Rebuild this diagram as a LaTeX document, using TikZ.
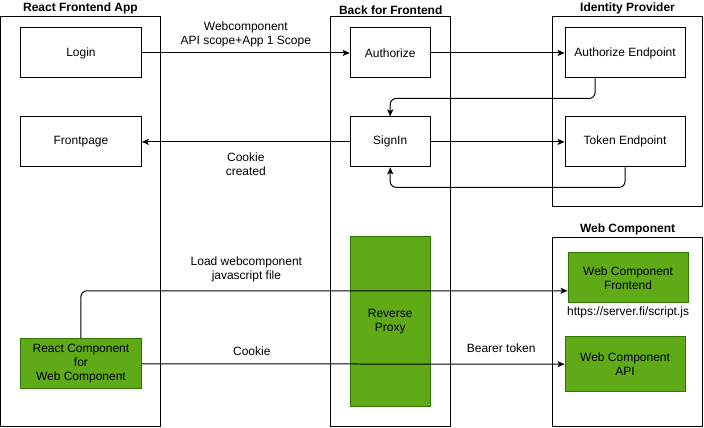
\documentclass[tikz,border=0pt]{standalone}
\usepackage{fontspec}
\setmainfont{Liberation Sans}
\usepackage{tikz}
\usetikzlibrary{arrows.meta,positioning}
\usepackage{xcolor}
\definecolor{cGreen}{RGB}{96,169,23}
\definecolor{cGreenD}{RGB}{45,118,0}

\begin{document}
\begin{tikzpicture}[
  x=1pt, y=-1pt,
  font=\fontsize{12}{14}\selectfont,
  grp/.style={rectangle, draw=black, line width=1pt, inner sep=0pt},
  ttl/.style={font=\fontsize{12}{14}\selectfont\bfseries, inner sep=2pt},
  bx/.style={rectangle, draw=black, line width=1pt, align=center,
    inner sep=2pt, minimum width=120pt, minimum height=50pt},
  gbx/.style={bx, fill=cGreen, draw=cGreenD},
  lbl/.style={align=center, inner sep=3pt},
  ar/.style={-{Stealth[length=7pt,width=6pt,inset=1.5pt]}, line width=1pt, draw=black}]
\useasboundingbox (-0.5,0) rectangle (704,428);
% containers
\node[grp, minimum width=160pt, minimum height=410pt, label={[ttl]above:React Frontend App}] (rfa) at (80,222) {};
\node[grp, minimum width=120pt, minimum height=410pt, label={[ttl]above:Back for Frontend}] (bff) at (390.5,222) {};
\node[grp, minimum width=150pt, minimum height=190pt, label={[ttl]above:Identity Provider}] (idp) at (627.5,112) {};
\node[grp, minimum width=150pt, minimum height=189pt, label={[ttl]above:Web Component}] (wc) at (627.5,332.5) {};
% boxes
\node[bx, minimum width=121pt] (login) at (80.5,53) {Login};
\node[bx, minimum width=121pt] (front) at (80.5,142) {Frontpage};
\node[bx, minimum width=80pt] (authz) at (390,53) {Authorize};
\node[bx, minimum width=80pt] (signin) at (390,142) {SignIn};
\node[bx] (authep) at (625,53) {Authorize Endpoint};
\node[bx] (tokenep) at (625,142) {Token Endpoint};
\node[gbx, minimum width=80pt, minimum height=170pt] (proxy) at (390,321.5) {Reverse\\Proxy};
\node[gbx, minimum width=121pt] (rcomp) at (80.5,364) {React Component\\for\\Web Component};
\node[gbx] (wcfront) at (628,278) {Web Component\\Frontend};
\node[gbx, minimum height=55pt] (wcapi) at (625,364.5) {Web Component\\API};
\node[lbl, below=0pt of wcfront] (url) {https://server.fi/script.js};
% flows
\draw[ar] (login) -- (authz) node[lbl, midway, above=2pt] {Webcomponent\\API scope+App 1 Scope};
\draw[ar] (authz) -- (authep);
\draw[ar, rounded corners=6pt] ([xshift=-30pt]authep.south) -- ++(0,20) -| (signin.north);
\draw[ar] (signin) -- (front) node[lbl, midway, below=7pt] {Cookie\\created};
\draw[ar] (signin) -- (tokenep);
\draw[ar, rounded corners=6pt] (tokenep.south) -- ++(0,20) -| (signin.south);
\draw[ar, rounded corners=6pt] (rcomp.north) |- ([yshift=-13pt]wcfront.west)
  node[lbl, pos=0.67, above=5pt] {Load webcomponent\\javascript file};
\draw[ar] (rcomp) -- (wcapi)
  node[lbl, pos=0.26, above=5pt] {Cookie}
  node[lbl, pos=0.85, above=8pt] {Bearer token};
\end{tikzpicture}
\end{document}
